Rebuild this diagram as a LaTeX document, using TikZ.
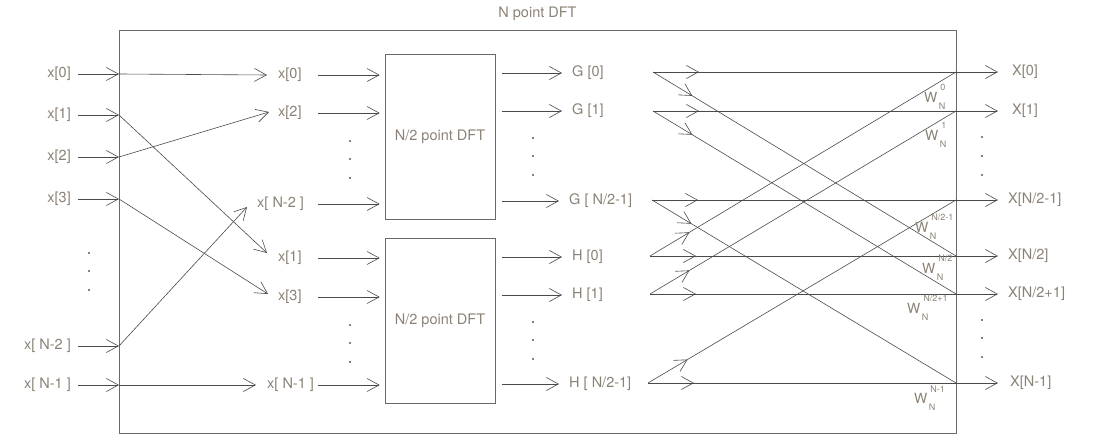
\documentclass[tikz,border=0pt]{standalone}
\usepackage{fontspec}
\setmainfont{TeX Gyre Heros}
\usepackage{tikz}
\usetikzlibrary{arrows.meta, positioning, decorations.markings}
\definecolor{dftText}{HTML}{8A8275}
\definecolor{dftLine}{HTML}{4A4A4A}
\definecolor{dftFrame}{HTML}{6A6A6A}
\newcommand\twf[1]{W\kern1.5pt\rlap{\kern1.5pt\raisebox{11.5pt}{\fontsize{9}{9}\selectfont #1}}\raisebox{-7pt}{\fontsize{9}{9}\selectfont N}}

\begin{document}
\begin{tikzpicture}[x=1pt, y=-1pt,
  lbl/.style={font=\fontsize{14.5}{16}\selectfont, text=dftText, inner sep=0pt},
  arr/.style={color=dftLine, line width=0.6pt, -{Straight Barb[length=12pt,width=13pt]}},
  bfly/.style={color=dftLine, line width=0.6pt, postaction={decorate},
               decoration={markings, mark=at position 46pt with {\arrow{Straight Barb[length=12pt,width=13pt]}}}},
  dftbox/.style={draw=dftFrame, line width=0.6pt, minimum width=110pt, minimum height=165pt,
                 font=\fontsize{14.5}{16}\selectfont, text=dftText, inner sep=0pt},
  twf/.style={font=\fontsize{14}{16}\selectfont, text=dftText, inner sep=0pt, anchor=base west},
]
  \useasboundingbox (0,0) rectangle (1098,446);

  % outer frame and title
  \node[draw=dftFrame, line width=0.7pt, minimum width=837pt, minimum height=403pt, inner sep=0pt]
    (frame) at (537.5,231.5) {};
  \node[lbl, above=9pt of frame] (title) {N point DFT};

  % inputs
  \foreach \n/\t/\y in {0/{x[0]}/74, 1/{x[1]}/115, 2/{x[2]}/157, 3/{x[3]}/199,
                         4/{x[ N-2 ]}/346, 5/{x[ N-1 ]}/385}{
    \node[lbl, anchor=east] (xin\n) at (71,\y) {\t};
    \coordinate (e\n) at (119,\y);
    \draw[arr] ([xshift=7pt]xin\n.east) -- (e\n);
  }

  % reordered inputs
  \node[lbl, anchor=west] (xa0) at (278,75) {x[0]};
  \node[lbl, anchor=west] (xa2) at (278,113) {x[2]};
  \node[lbl, anchor=west] (xaN2) at (257,204) {x[ N-2 ]};
  \node[lbl, anchor=west] (xa1) at (278,258) {x[1]};
  \node[lbl, anchor=west] (xa3) at (278,297) {x[3]};
  \node[lbl, anchor=west] (xaN1) at (267,385) {x[ N-1 ]};

  \draw[arr] (e0) -- ([xshift=-11pt]xa0.west);
  \draw[arr] (e1) -- ([xshift=-11pt,yshift=5pt]xa1.west);
  \draw[arr] (e2) -- ([xshift=-9pt,yshift=1pt]xa2.west);
  \draw[arr] (e3) -- ([xshift=-10pt,yshift=3pt]xa3.west);
  \draw[arr] (e4) -- ([xshift=-10pt,yshift=-3pt]xaN2.west);
  \draw[arr] (e5) -- ([xshift=-11pt]xaN1.west);

  % half-size DFT blocks
  \node[dftbox] (dftG) at (440,136.5) {N/2 point DFT};
  \node[dftbox] (dftH) at (440,320.5) {N/2 point DFT};

  \coordinate (c1) at (318,0);
  \foreach \n in {xa0, xa2, xaN2}
    \draw[arr] (c1 |- \n) -- ([xshift=-5pt]dftG.west |- \n);
  \foreach \n in {xa1, xa3, xaN1}
    \draw[arr] (c1 |- \n) -- ([xshift=-5pt]dftH.west |- \n);

  % block outputs
  \node[lbl, anchor=west] (g0) at (572,73) {G [0]};
  \node[lbl, anchor=west] (g1) at (572,111) {G [1]};
  \node[lbl, anchor=west] (g2) at (569,201) {G [ N/2-1]};
  \node[lbl, anchor=west] (h0) at (572,257) {H [0]};
  \node[lbl, anchor=west] (h1) at (572,295) {H [1]};
  \node[lbl, anchor=west] (h2) at (569,384) {H [ N/2-1]};

  \coordinate (c2) at (502,0);
  \foreach \n in {g0, g1, g2, h0, h1, h2}
    \draw[arr] (c2 |- \n) -- ([xshift=-10pt]\n.west);

  % butterflies
  \coordinate (bg0) at (653,72);
  \coordinate (bg1) at (653,111);
  \coordinate (bg2) at (652,200);
  \coordinate (bh0) at (650,256);
  \coordinate (bh1) at (650,294);
  \coordinate (bh2) at (648,383);
  \foreach \n/\y in {0/72, 1/111, 2/200, 3/256, 4/294, 5/383}
    \coordinate (r\n) at (956,\y);

  \draw[bfly] (bg0) -- (r0);
  \draw[bfly] (bg0) -- (r3);
  \draw[bfly] (bg1) -- (r1);
  \draw[bfly] (bg1) -- (r4);
  \draw[bfly] (bg2) -- (r2);
  \draw[bfly] (bg2) -- (r5);
  \draw[bfly] (bh0) -- (r3);
  \draw[bfly] (bh0) -- (r0);
  \draw[bfly] (bh1) -- (r4);
  \draw[bfly] (bh1) -- (r1);
  \draw[bfly] (bh2) -- (r5);
  \draw[bfly] (bh2) -- (r2);

  % outputs
  \node[lbl, anchor=west] (X0) at (1012,72) {X[0]};
  \node[lbl, anchor=west] (X1) at (1012,111) {X[1]};
  \node[lbl, anchor=west] (X2) at (1008,200) {X[N/2-1]};
  \node[lbl, anchor=west] (X3) at (1008,256) {X[N/2]};
  \node[lbl, anchor=west] (X4) at (1008,294) {X[N/2+1]};
  \node[lbl, anchor=west] (X5) at (1010,383) {X[N-1]};
  \draw[arr] (r0) -- ([xshift=-14pt]X0.west);
  \draw[arr] (r1) -- ([xshift=-14pt]X1.west);
  \draw[arr] (r2) -- ([xshift=-10pt]X2.west);
  \draw[arr] (r3) -- ([xshift=-10pt]X3.west);
  \draw[arr] (r4) -- ([xshift=-10pt]X4.west);
  \draw[arr] (r5) -- ([xshift=-12pt]X5.west);

  % twiddle factors
  \node[twf] (w0) at (924,102.5) {\twf{0}};
  \node[twf] (w1) at (925,140.5) {\twf{1}};
  \node[twf] (w2) at (915,232.5) {\twf{N/2-1}};
  \node[twf] (w3) at (922,273.5) {\twf{N/2}};
  \node[twf] (w4) at (907,313.5) {\twf{N/2+1}};
  \node[twf] (w5) at (914,403.5) {\twf{N-1}};

  % dots
  \foreach \x/\y in {89/253, 89/271, 89/290,
                     350/141, 350/159, 350/178, 350/325, 350/343, 350/362,
                     533/138, 533/156, 533/175, 533/322, 533/340, 533/359,
                     982/137, 982/156, 982/175, 982/320, 982/338, 982/357}
    \fill[dftText] (\x-1.1,\y-1.1) rectangle ++(2.2,2.2);
\end{tikzpicture}
\end{document}
